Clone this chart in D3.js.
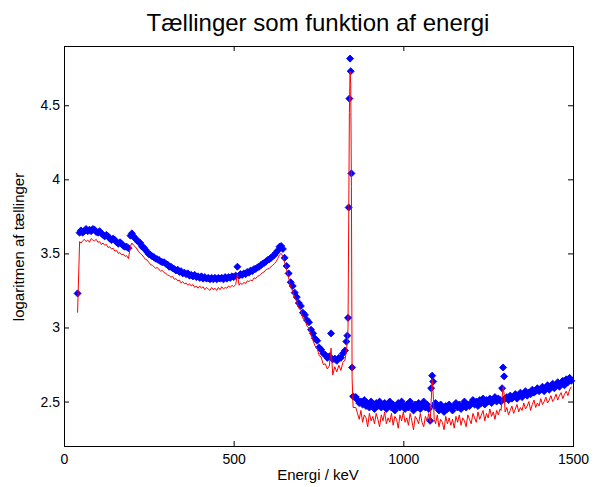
<!DOCTYPE html>
<html>
<head>
<meta charset="utf-8">
<script src="https://d3js.org/d3.v7.min.js"></script>
<style>
  body { margin: 0; background: #fff; }
  text { font-family: Arial, "Liberation Sans", Helvetica, sans-serif; fill: #000; }
</style>
</head>
<body>
<div id="chart"></div>
<script>
//Energy of each channel (keV)
var energy = [
    40, 46, 50, 55, 60, 65, 70, 75, 80, 85,
    90, 95, 100, 105, 110, 115, 120, 125, 130, 135,
    140, 145, 150, 155, 160, 165, 170, 175, 180, 185,
    190, 196, 200, 205,
    210, 215, 220, 225, 230, 235, 240, 245, 250, 255,
    260, 265, 270, 275, 280, 285, 290, 295, 300, 305,
    310, 315, 320, 325, 330, 335, 340, 345, 350, 355,
    360, 365, 370, 375, 380, 385, 390, 395, 400, 405,
    410, 415, 420, 425, 430, 435, 440, 445, 450, 455,
    460, 465, 470, 475, 480, 485, 490, 495, 500,
    506, 511, 516,
    520, 525, 530, 535, 540, 545, 550, 555, 560, 565,
    570, 575, 580, 585, 590, 595, 600, 605, 610, 615,
    620, 625, 630, 635, 640, 645,
    650, 656, 662, 668, 674, 680, 686, 692, 698, 704,
    710, 716, 722, 728, 734, 740, 746, 752, 758, 764,
    770, 776, 782, 787, 792, 798, 804, 810, 816, 822,
    828, 832,
    835, 837, 839, 841, 843, 845, 847, 849, 852,
    860, 865, 870, 875, 880, 885, 890, 895, 900, 905,
    910, 915, 920, 925, 930, 935, 940, 945, 950, 955,
    960, 965, 970, 975, 980, 985, 990, 995, 1000, 1005,
    1010, 1015, 1020, 1025, 1030, 1035, 1040, 1045, 1050, 1055,
    1060, 1065, 1070, 1075,
    1079, 1082, 1085, 1088, 1091,
    1095, 1100, 1105, 1110, 1115, 1120, 1125, 1130, 1135, 1140,
    1145, 1150, 1155, 1160, 1165, 1170, 1175, 1180, 1185, 1190,
    1195, 1200, 1205, 1210, 1215, 1220, 1225, 1230, 1235, 1240,
    1245, 1250, 1255, 1260, 1265, 1270, 1275, 1280, 1285,
    1288, 1291, 1294, 1297, 1300,
    1305, 1310, 1315, 1320, 1325, 1330, 1335, 1340, 1345, 1350,
    1355, 1360, 1365, 1370, 1375, 1380, 1385, 1390, 1395, 1400,
    1405, 1410, 1415, 1420, 1425, 1430, 1435, 1440, 1445, 1450,
    1455, 1460, 1465, 1470, 1475, 1480, 1485, 1490, 1495
];

//log10 of counts, blue markers
var logCountsBlue = [
    3.23, 3.64, 3.655, 3.64, 3.65, 3.665, 3.65, 3.66, 3.65, 3.665,
    3.66, 3.645, 3.64, 3.65, 3.635, 3.625, 3.615, 3.625, 3.615, 3.60,
    3.59, 3.60, 3.59, 3.575, 3.565, 3.575, 3.565, 3.55, 3.545, 3.545,
    3.535, 3.62, 3.635, 3.615,
    3.60, 3.59, 3.575, 3.57, 3.545, 3.54, 3.525, 3.51, 3.495, 3.49,
    3.48, 3.475, 3.465, 3.46, 3.455, 3.445, 3.44, 3.44, 3.43, 3.425,
    3.41, 3.41, 3.40, 3.395, 3.385, 3.39, 3.375, 3.38, 3.365, 3.37,
    3.36, 3.365, 3.35, 3.355, 3.345, 3.355, 3.34, 3.345, 3.335, 3.345,
    3.33, 3.34, 3.33, 3.335, 3.325, 3.335, 3.325, 3.335, 3.325, 3.335,
    3.33, 3.335, 3.325, 3.34, 3.33, 3.34, 3.335, 3.345, 3.34,
    3.35, 3.41, 3.35,
    3.36, 3.355, 3.365, 3.36, 3.375, 3.37, 3.385, 3.38, 3.395, 3.395,
    3.405, 3.41, 3.42, 3.43, 3.435, 3.445, 3.455, 3.46, 3.47, 3.48,
    3.49, 3.505, 3.52, 3.545, 3.55, 3.53,
    3.47, 3.415, 3.365, 3.305, 3.28, 3.235, 3.205, 3.165, 3.145, 3.10,
    3.085, 3.05, 3.035, 2.985, 2.96, 2.925, 2.91, 2.865, 2.85, 2.825,
    2.815, 2.795, 2.805, 2.96, 2.785, 2.79, 2.775, 2.795, 2.795, 2.825,
    2.845, 2.905,
    2.945, 3.065, 3.81, 4.545, 4.815, 4.73, 4.04, 2.73, 2.535,
    2.53, 2.51, 2.49, 2.50, 2.48, 2.51, 2.47, 2.49, 2.46, 2.50,
    2.48, 2.45, 2.49, 2.47, 2.50, 2.46, 2.48, 2.49, 2.45, 2.47,
    2.50, 2.46, 2.48, 2.44, 2.47, 2.49, 2.46, 2.50, 2.47, 2.45,
    2.48, 2.46, 2.50, 2.47, 2.44, 2.48, 2.46, 2.49, 2.45, 2.47,
    2.50, 2.46, 2.48, 2.45,
    2.37, 2.59, 2.675, 2.635, 2.47,
    2.49, 2.46, 2.44, 2.48, 2.46, 2.43, 2.47, 2.45, 2.48, 2.46,
    2.44, 2.47, 2.49, 2.46, 2.48, 2.45, 2.47, 2.50, 2.46, 2.48,
    2.47, 2.49, 2.51, 2.48, 2.50, 2.47, 2.51, 2.49, 2.52, 2.48,
    2.51, 2.50, 2.52, 2.49, 2.51, 2.53, 2.50, 2.52, 2.51,
    2.50, 2.59, 2.73, 2.67, 2.52,
    2.53, 2.51, 2.54, 2.52, 2.53, 2.55, 2.52, 2.54, 2.56, 2.53,
    2.55, 2.57, 2.54, 2.56, 2.55, 2.58, 2.56, 2.57, 2.59, 2.57,
    2.58, 2.60, 2.57, 2.59, 2.61, 2.58, 2.60, 2.62, 2.59, 2.61,
    2.63, 2.60, 2.62, 2.64, 2.61, 2.65, 2.63, 2.66, 2.64
];

//log10 of counts, red line
var logCountsRed = [
    3.10, 3.58, 3.57, 3.585, 3.595, 3.58, 3.59, 3.575, 3.60, 3.59,
    3.585, 3.595, 3.575, 3.58, 3.56, 3.57, 3.555, 3.56, 3.54, 3.545,
    3.53, 3.535, 3.515, 3.52, 3.50, 3.505, 3.49, 3.495, 3.48, 3.485,
    3.465, 3.55, 3.57, 3.555,
    3.545, 3.53, 3.51, 3.50, 3.49, 3.475, 3.46, 3.455, 3.44, 3.425,
    3.42, 3.41, 3.40, 3.405, 3.39, 3.38, 3.385, 3.37, 3.365, 3.355,
    3.35, 3.34, 3.345, 3.325, 3.33, 3.315, 3.32, 3.30, 3.31, 3.295,
    3.30, 3.285, 3.295, 3.28, 3.29, 3.27, 3.28, 3.265, 3.28, 3.265,
    3.275, 3.255, 3.27, 3.26, 3.25, 3.27, 3.255, 3.265, 3.25, 3.27,
    3.255, 3.275, 3.26, 3.27, 3.265, 3.28, 3.27, 3.285, 3.275,
    3.29, 3.36, 3.285,
    3.30, 3.29, 3.305, 3.295, 3.315, 3.31, 3.32, 3.315, 3.335, 3.33,
    3.345, 3.35, 3.36, 3.37, 3.375, 3.39, 3.395, 3.40, 3.41, 3.42,
    3.43, 3.445, 3.465, 3.49, 3.50, 3.48,
    3.44, 3.385, 3.335, 3.27, 3.245, 3.20, 3.175, 3.13, 3.115, 3.06,
    3.055, 3.01, 2.995, 2.945, 2.91, 2.875, 2.86, 2.81, 2.80, 2.75,
    2.755, 2.72, 2.74, 2.86, 2.68, 2.735, 2.70, 2.745, 2.71, 2.765,
    2.78, 2.84,
    2.90, 3.00, 3.72, 4.45, 4.73, 4.64, 3.95, 2.66, 2.46,
    2.46, 2.42, 2.38, 2.44, 2.36, 2.41, 2.39, 2.33, 2.42, 2.37,
    2.40, 2.35, 2.42, 2.38, 2.33, 2.41, 2.37, 2.43, 2.35, 2.39,
    2.36, 2.42, 2.34, 2.40, 2.38, 2.32, 2.41, 2.37, 2.43, 2.36,
    2.39, 2.34, 2.42, 2.37, 2.31, 2.40, 2.38, 2.35, 2.42, 2.36,
    2.33, 2.40, 2.37, 2.42,
    2.36, 2.50, 2.65, 2.55, 2.38,
    2.35, 2.41, 2.33, 2.38, 2.36, 2.31, 2.40, 2.35, 2.39, 2.34,
    2.38, 2.32, 2.40, 2.36, 2.41, 2.34, 2.39, 2.37, 2.33, 2.41,
    2.38, 2.35, 2.42, 2.39, 2.36, 2.43, 2.38, 2.41, 2.44, 2.37,
    2.42, 2.39, 2.45, 2.40, 2.43, 2.38, 2.44, 2.41, 2.45,
    2.44, 2.52, 2.60, 2.55, 2.43,
    2.46, 2.41, 2.44, 2.47, 2.42, 2.45, 2.48, 2.43, 2.46, 2.44,
    2.49, 2.45, 2.47, 2.50, 2.44, 2.48, 2.51, 2.46, 2.49, 2.47,
    2.52, 2.48, 2.50, 2.53, 2.49, 2.51, 2.54, 2.50, 2.52, 2.55,
    2.51, 2.54, 2.56, 2.52, 2.55, 2.57, 2.54, 2.58, 2.60
];

var xTicks = [0, 500, 1000, 1500];
var yTicks = [2.5, 3, 3.5, 4, 4.5];

var width = 595, height = 487;
var margin = {left: 64, right: 22, top: 46, bottom: 41};

var svg = d3.select("#chart")
    .append("svg")
    .attr("width", width)
    .attr("height", height);

svg.append("rect")
    .attr("width", width)
    .attr("height", height)
    .attr("fill", "#fff");

var x = d3.scaleLinear()
    .domain([0, 1500])
    .range([margin.left, width - margin.right]);

var y = d3.scaleLinear()
    .domain([2.2, 4.9])
    .range([height - margin.bottom, margin.top]);

var points = d3.zip(energy, logCountsBlue, logCountsRed);

//Blue diamonds
svg.append("g")
    .selectAll("path")
    .data(points)
    .join("path")
    .attr("transform", function(d) { return "translate(" + x(d[0]) + "," + y(d[1]) + ") rotate(45)"; })
    .attr("d", d3.symbol(d3.symbolSquare, 25))
    .attr("fill", "#0000ff")
    .attr("stroke", "#0000ff")
    .attr("stroke-width", 0.8);

//Red line on top
svg.append("path")
    .datum(points)
    .attr("fill", "none")
    .attr("stroke", "#ff0000")
    .attr("stroke-width", 1)
    .attr("d", d3.line()
        .x(function(d) { return x(d[0]); })
        .y(function(d) { return y(d[2]); }));

//Axes, ticks pointing inwards on all four sides
var axisFont = function(g) {
    g.select(".domain").remove();
    g.selectAll("line").attr("stroke", "#000");
    g.selectAll("text").attr("font-size", 14).attr("fill", "#000");
    g.attr("font-family", null);
};

svg.append("g")
    .attr("transform", "translate(0," + (height - margin.bottom) + ")")
    .call(d3.axisBottom(x).tickValues(xTicks).tickSizeInner(-5).tickSizeOuter(0).tickPadding(8).tickFormat(d3.format("d")))
    .call(axisFont);

svg.append("g")
    .attr("transform", "translate(0," + margin.top + ")")
    .call(d3.axisTop(x).tickValues(xTicks).tickSizeInner(-5).tickSizeOuter(0).tickFormat(""))
    .call(axisFont);

svg.append("g")
    .attr("transform", "translate(" + margin.left + ",0)")
    .call(d3.axisLeft(y).tickValues(yTicks).tickSizeInner(-5).tickSizeOuter(0).tickPadding(4).tickFormat(d3.format("")))
    .call(axisFont);

svg.append("g")
    .attr("transform", "translate(" + (width - margin.right) + ",0)")
    .call(d3.axisRight(y).tickValues(yTicks).tickSizeInner(-5).tickSizeOuter(0).tickFormat(""))
    .call(axisFont);

//Box round the plot
svg.append("rect")
    .attr("x", margin.left)
    .attr("y", margin.top)
    .attr("width", width - margin.left - margin.right)
    .attr("height", height - margin.top - margin.bottom)
    .attr("fill", "none")
    .attr("stroke", "#000")
    .attr("stroke-width", 1)
    .attr("shape-rendering", "crispEdges");

//Title and axis labels
svg.append("text")
    .attr("x", 318)
    .attr("y", 31)
    .attr("text-anchor", "middle")
    .attr("font-size", 24)
    .text("Tællinger som funktion af energi");

svg.append("text")
    .attr("x", 318)
    .attr("y", 480)
    .attr("text-anchor", "middle")
    .attr("font-size", 15)
    .text("Energi / keV");

svg.append("text")
    .attr("transform", "translate(24,247) rotate(-90)")
    .attr("text-anchor", "middle")
    .attr("font-size", 15)
    .text("logaritmen af tællinger");
</script>
</body>
</html>
